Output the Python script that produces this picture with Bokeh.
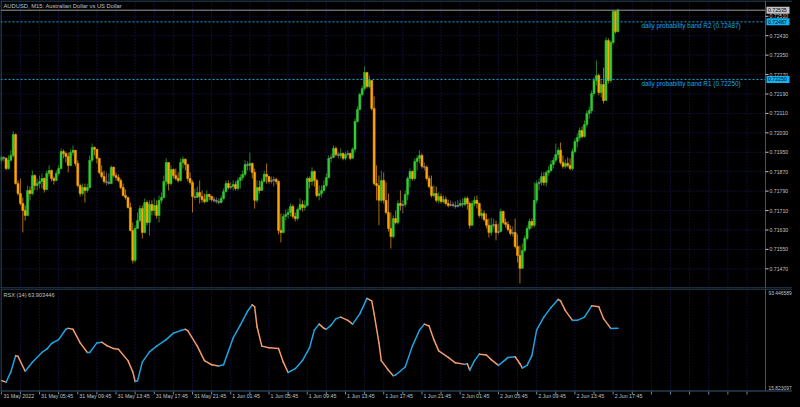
from bokeh.plotting import figure
from bokeh.layouts import column
from bokeh.models import Range1d, Span, ColumnDataSource, GlobalInlineStyleSheet
from bokeh.core.properties import value
from bokeh.embed import file_html
from bokeh.resources import INLINE

# ---------------- data ----------------
chart_title = "AUDUSD, M15:  Australian Dollar vs US Dollar"
first_open = 0.71917

close = [
0.71929, 0.71925, 0.71883, 0.71917, 0.71937, 0.72023, 0.71821, 0.71780, 0.71739, 0.71710,
0.71690, 0.71793, 0.71780, 0.71854, 0.71813, 0.71821, 0.71830, 0.71842, 0.71797, 0.71863,
0.71875, 0.71842, 0.71834, 0.71863, 0.71883, 0.71953, 0.71945, 0.71933, 0.71896, 0.71949,
0.71958, 0.71904, 0.71813, 0.71780, 0.71805, 0.71793, 0.71805, 0.71917, 0.71970, 0.71962,
0.71925, 0.71867, 0.71850, 0.71830, 0.71826, 0.71821, 0.71888, 0.71854, 0.71846, 0.71834,
0.71805, 0.71772, 0.71764, 0.71723, 0.71628, 0.71505, 0.71636, 0.71669, 0.71718, 0.71620,
0.71743, 0.71661, 0.71735, 0.71710, 0.71731, 0.71690, 0.71752, 0.71764, 0.71830, 0.71908,
0.71821, 0.71879, 0.71854, 0.71842, 0.71834, 0.71908, 0.71921, 0.71900, 0.71842, 0.71826,
0.71768, 0.71764, 0.71784, 0.71768, 0.71755, 0.71747, 0.71776, 0.71768, 0.71755, 0.71752,
0.71747, 0.71743, 0.71760, 0.71788, 0.71821, 0.71805, 0.71809, 0.71817, 0.71801, 0.71834,
0.71846, 0.71859, 0.71900, 0.71896, 0.71904, 0.71867, 0.71752, 0.71805, 0.71793, 0.71830,
0.71859, 0.71850, 0.71830, 0.71834, 0.71838, 0.71830, 0.71628, 0.71620, 0.71686, 0.71694,
0.71702, 0.71727, 0.71686, 0.71677, 0.71714, 0.71735, 0.71723, 0.71731, 0.71842, 0.71830,
0.71871, 0.71834, 0.71772, 0.71780, 0.71793, 0.71813, 0.71846, 0.71925, 0.71929, 0.71966,
0.71941, 0.71937, 0.71945, 0.71925, 0.71941, 0.71945, 0.71925, 0.71962, 0.72077, 0.72126,
0.72188, 0.72213, 0.72279, 0.72221, 0.72246, 0.72130, 0.71821, 0.71813, 0.71752, 0.71834,
0.71752, 0.71702, 0.71636, 0.71603, 0.71677, 0.71661, 0.71739, 0.71731, 0.71735, 0.71776,
0.71842, 0.71871, 0.71842, 0.71912, 0.71925, 0.71937, 0.71892, 0.71888, 0.71842, 0.71809,
0.71772, 0.71780, 0.71752, 0.71768, 0.71747, 0.71755, 0.71739, 0.71731, 0.71735, 0.71731,
0.71727, 0.71731, 0.71739, 0.71735, 0.71760, 0.71739, 0.71649, 0.71739, 0.71752, 0.71739,
0.71690, 0.71698, 0.71673, 0.71649, 0.71620, 0.71649, 0.71653, 0.71620, 0.71624, 0.71706,
0.71661, 0.71653, 0.71632, 0.71616, 0.71620, 0.71562, 0.71525, 0.71472, 0.71546, 0.71595,
0.71636, 0.71665, 0.71649, 0.71752, 0.71821, 0.71826, 0.71850, 0.71826, 0.71867, 0.71875,
0.71900, 0.71917, 0.71941, 0.71958, 0.71908, 0.71892, 0.71904, 0.71896, 0.71883, 0.71953,
0.71994, 0.72011, 0.72040, 0.72015, 0.72064, 0.72110, 0.72122, 0.72192, 0.72246, 0.72266,
0.72196, 0.72229, 0.72163, 0.72410, 0.72246, 0.72402, 0.72530, 0.72447, 0.72535]

high = [
0.71937, 0.71933, 0.71929, 0.71937, 0.71958, 0.72036, 0.72027, 0.71834, 0.71842, 0.71764,
0.71731, 0.71813, 0.71809, 0.71875, 0.71859, 0.71842, 0.71854, 0.71863, 0.71846, 0.71875,
0.71896, 0.71879, 0.71850, 0.71875, 0.71896, 0.71966, 0.71962, 0.71953, 0.71949, 0.71962,
0.71978, 0.71958, 0.71917, 0.71821, 0.71821, 0.71821, 0.71821, 0.71937, 0.71986, 0.71974,
0.71958, 0.71917, 0.71896, 0.71875, 0.71867, 0.71863, 0.71896, 0.71892, 0.71867, 0.71859,
0.71842, 0.71821, 0.71797, 0.71764, 0.71743, 0.71661, 0.71649, 0.71702, 0.71731, 0.71731,
0.71760, 0.71752, 0.71752, 0.71752, 0.71760, 0.71752, 0.71772, 0.71784, 0.71854, 0.71925,
0.71908, 0.71896, 0.71883, 0.71883, 0.71867, 0.71925, 0.71933, 0.71925, 0.71896, 0.71867,
0.71834, 0.71801, 0.71809, 0.71834, 0.71793, 0.71780, 0.71793, 0.71780, 0.71772, 0.71768,
0.71764, 0.71760, 0.71772, 0.71801, 0.71834, 0.71834, 0.71826, 0.71834, 0.71830, 0.71846,
0.71859, 0.71875, 0.71917, 0.71912, 0.71949, 0.71908, 0.71883, 0.71834, 0.71834, 0.71842,
0.71875, 0.71904, 0.71854, 0.71850, 0.71850, 0.71846, 0.71834, 0.71698, 0.71698, 0.71714,
0.71718, 0.71739, 0.71735, 0.71702, 0.71723, 0.71760, 0.71752, 0.71752, 0.71850, 0.71850,
0.71888, 0.71875, 0.71842, 0.71813, 0.71813, 0.71834, 0.71863, 0.71937, 0.71945, 0.71978,
0.71974, 0.71953, 0.71966, 0.71949, 0.71953, 0.71958, 0.71949, 0.71970, 0.72089, 0.72139,
0.72196, 0.72225, 0.72303, 0.72279, 0.72266, 0.72246, 0.72180, 0.71896, 0.71854, 0.71875,
0.71867, 0.71826, 0.71780, 0.71702, 0.71690, 0.71710, 0.71752, 0.71793, 0.71752, 0.71793,
0.71850, 0.71883, 0.71875, 0.71925, 0.71937, 0.71958, 0.71945, 0.71908, 0.71896, 0.71854,
0.71854, 0.71813, 0.71809, 0.71784, 0.71780, 0.71772, 0.71768, 0.71755, 0.71752, 0.71747,
0.71747, 0.71752, 0.71755, 0.71760, 0.71768, 0.71768, 0.71747, 0.71752, 0.71768, 0.71772,
0.71743, 0.71718, 0.71710, 0.71698, 0.71677, 0.71681, 0.71677, 0.71669, 0.71657, 0.71718,
0.71710, 0.71677, 0.71665, 0.71649, 0.71645, 0.71677, 0.71612, 0.71566, 0.71574, 0.71607,
0.71649, 0.71677, 0.71677, 0.71826, 0.71834, 0.71842, 0.71867, 0.71867, 0.71875, 0.71892,
0.71917, 0.71929, 0.71986, 0.71970, 0.71990, 0.71937, 0.71921, 0.71929, 0.71925, 0.71966,
0.72007, 0.72027, 0.72052, 0.72056, 0.72081, 0.72122, 0.72139, 0.72204, 0.72258, 0.72328,
0.72274, 0.72246, 0.72299, 0.72423, 0.72419, 0.72410, 0.72534, 0.72526, 0.72542]

low = [
0.71904, 0.71912, 0.71875, 0.71879, 0.71912, 0.71929, 0.71817, 0.71772, 0.71731, 0.71620,
0.71669, 0.71686, 0.71752, 0.71772, 0.71793, 0.71793, 0.71801, 0.71801, 0.71784, 0.71793,
0.71850, 0.71830, 0.71817, 0.71830, 0.71854, 0.71879, 0.71925, 0.71908, 0.71867, 0.71892,
0.71937, 0.71892, 0.71805, 0.71768, 0.71772, 0.71743, 0.71784, 0.71801, 0.71908, 0.71937,
0.71904, 0.71859, 0.71842, 0.71821, 0.71813, 0.71817, 0.71821, 0.71846, 0.71834, 0.71826,
0.71797, 0.71768, 0.71755, 0.71718, 0.71624, 0.71492, 0.71496, 0.71636, 0.71661, 0.71595,
0.71616, 0.71649, 0.71607, 0.71690, 0.71690, 0.71677, 0.71661, 0.71739, 0.71760, 0.71813,
0.71793, 0.71813, 0.71842, 0.71834, 0.71826, 0.71830, 0.71883, 0.71875, 0.71830, 0.71817,
0.71702, 0.71755, 0.71768, 0.71739, 0.71743, 0.71739, 0.71743, 0.71752, 0.71747, 0.71743,
0.71739, 0.71735, 0.71739, 0.71755, 0.71784, 0.71797, 0.71797, 0.71793, 0.71793, 0.71793,
0.71801, 0.71834, 0.71850, 0.71875, 0.71875, 0.71842, 0.71718, 0.71743, 0.71780, 0.71793,
0.71826, 0.71821, 0.71821, 0.71821, 0.71809, 0.71817, 0.71612, 0.71579, 0.71616, 0.71669,
0.71677, 0.71686, 0.71677, 0.71665, 0.71669, 0.71710, 0.71706, 0.71710, 0.71727, 0.71801,
0.71813, 0.71809, 0.71764, 0.71752, 0.71764, 0.71784, 0.71805, 0.71842, 0.71908, 0.71925,
0.71933, 0.71925, 0.71925, 0.71917, 0.71917, 0.71933, 0.71917, 0.71925, 0.71949, 0.72073,
0.72122, 0.72180, 0.72204, 0.72213, 0.72213, 0.72122, 0.71813, 0.71752, 0.71649, 0.71743,
0.71739, 0.71694, 0.71624, 0.71554, 0.71595, 0.71653, 0.71653, 0.71710, 0.71698, 0.71723,
0.71752, 0.71805, 0.71834, 0.71834, 0.71875, 0.71904, 0.71883, 0.71875, 0.71834, 0.71801,
0.71764, 0.71764, 0.71743, 0.71739, 0.71739, 0.71739, 0.71731, 0.71723, 0.71727, 0.71723,
0.71718, 0.71723, 0.71727, 0.71723, 0.71727, 0.71714, 0.71636, 0.71649, 0.71727, 0.71718,
0.71681, 0.71677, 0.71665, 0.71636, 0.71599, 0.71607, 0.71636, 0.71587, 0.71612, 0.71620,
0.71653, 0.71640, 0.71624, 0.71607, 0.71603, 0.71554, 0.71496, 0.71410, 0.71480, 0.71538,
0.71587, 0.71628, 0.71636, 0.71640, 0.71739, 0.71793, 0.71813, 0.71813, 0.71809, 0.71854,
0.71867, 0.71883, 0.71908, 0.71925, 0.71900, 0.71883, 0.71883, 0.71888, 0.71875, 0.71875,
0.71945, 0.71970, 0.71999, 0.72007, 0.72011, 0.72052, 0.72089, 0.72110, 0.72180, 0.72225,
0.72184, 0.72176, 0.72151, 0.72163, 0.72233, 0.72237, 0.72394, 0.72439, 0.72443]

price_ticks = [0.71470, 0.71550, 0.71630, 0.71710, 0.71790, 0.71870, 0.71950,
               0.72030, 0.72110, 0.72190, 0.72270, 0.72350, 0.72430, 0.72510]
band_r2 = 0.72487
band_r1 = 0.72250
last_price = 0.72535

time_labels = ["31 May 2022", "31 May 05:45", "31 May 09:45", "31 May 13:45", "31 May 17:45",
               "31 May 21:45", "1 Jun 01:45", "1 Jun 05:45", "1 Jun 09:45", "1 Jun 13:45",
               "1 Jun 17:45", "1 Jun 21:45", "2 Jun 01:45", "2 Jun 05:45", "2 Jun 09:45",
               "2 Jun 13:45", "2 Jun 17:45"]
bars_per_label = 16
bars_per_grid = 8

rsx_bar = [0, 2, 4, 6, 7, 10, 13, 17, 19, 21, 24, 27, 28, 30, 33, 36, 37, 40, 42, 44,
           47, 49, 53, 55, 56, 57, 59, 62, 65, 69, 72, 75, 77, 78, 82, 85, 88, 91, 93, 97,
           100, 103, 105, 106, 107, 109, 112, 116, 118, 120, 123, 126, 129, 131, 133, 135, 136, 138, 140, 142,
           145, 147, 150, 153, 155, 156, 158, 159, 162, 164, 165, 169, 172, 175, 177, 179, 181, 183, 187, 190,
           194, 195, 196, 198, 200, 203, 205, 208, 211, 212, 215, 217, 218, 220, 222, 224, 227, 230, 233, 234,
           236, 239, 241, 244, 247, 250, 252, 255, 258]
rsx_val = [23.5, 22.3, 30.2, 42.7, 42.2, 30.7, 37.7, 45.2, 47.7, 52.1, 55.1, 63.1, 63.8, 63.1, 52.6, 45.2, 45.2, 52.6, 53.1, 50.6,
           48.2, 47.7, 38.9, 30.2, 22.8, 23.3, 37.7, 45.7, 50.1, 55.1, 60.1, 62.1, 63.1, 62.1, 50.1, 38.9, 35.7, 34.7, 35.7, 56.4,
           66.3, 77.0, 82.0, 80.5, 65.1, 50.1, 48.9, 48.2, 37.7, 29.7, 32.7, 38.9, 48.9, 62.6, 67.1, 63.8, 63.1, 66.3, 71.3, 72.5,
           70.0, 67.1, 75.0, 87.0, 85.0, 75.0, 52.6, 38.9, 31.5, 27.3, 27.8, 34.0, 50.1, 62.6, 67.1, 65.6, 55.1, 46.4, 41.4, 37.2,
           36.0, 36.5, 31.5, 38.9, 43.9, 43.2, 39.7, 35.2, 39.7, 41.4, 41.9, 36.5, 33.2, 35.2, 42.7, 62.6, 72.5, 80.0, 86.2, 85.0,
           77.5, 70.0, 70.0, 72.5, 81.2, 80.5, 71.3, 63.8, 63.903446]
rsx_period = 14
rsx_max = 93.446589
rsx_min = 15.823097

assert len(close) == len(high) == len(low)
assert len(rsx_bar) == len(rsx_val)

# ---------------- style / layout ----------------
BG = "#000000"
BORDER = "#34587c"
GRID = "#1b1b66"
TXT = "#bcc4cc"
FONT = "Liberation Sans"
BULL, BEAR, NEUT = "#33cc33", "#ffa500", "#8c8c8c"
BULL_W, BEAR_W, NEUT_W = "#2f7f22", "#a8700c", "#5c5c5c"
BAND = "#19a7e6"
RSX_UP, RSX_DN = "#1fa3e3", "#f39a6b"

W = 792
H1 = 288
H2 = 111
EDGE = 765          # pixel position of the price scale line
BAR_PX = 2.39
x_start = -0.8 / BAR_PX
x_end = x_start + W / BAR_PX
PXX = (x_end - x_start) / W


def xpx(px):
    return x_start + px * PXX


x_edge = xpx(EDGE)

y_top, y_bot = 0.72575, 0.71389
PYM = (y_top - y_bot) / H1


def ypm(py):
    return y_top - py * PYM


# RSX figure: max at 1.5 px, min at 102 px
PYR = (rsx_max - rsx_min) / 100.5
r_top = rsx_max + 1.5 * PYR
r_bot = r_top - H2 * PYR


def ypr(py):
    return r_top - py * PYR


def txt(p, xs, ys, texts, size, color=TXT, align="left"):
    p.text(x=xs, y=ys, text=texts, text_font=value(FONT), text_font_size=value(size),
           text_color=color, text_align=align, text_baseline="middle")


n = len(close)
opens = [first_open] + close[:-1]
tops, bots, fills, wcols, his, los = [], [], [], [], [], []
for o, c, h, l in zip(opens, close, high, low):
    d = c - o
    if abs(d) < 0.00006:
        fills.append(NEUT); wcols.append(NEUT_W)
    elif d > 0:
        fills.append(BULL); wcols.append(BULL_W)
    else:
        fills.append(BEAR); wcols.append(BEAR_W)
    t, b = max(o, c), min(o, c)
    if t - b < 0.00003:
        t += 0.000015; b -= 0.000015
    tops.append(t); bots.append(b)
    his.append(max(h, o, c)); los.append(min(l, o, c))
src = ColumnDataSource(dict(x=list(range(n)), top=tops, bottom=bots, fill=fills, wick=wcols, hi=his, lo=los))

grid_ticks = [b for b in range(0, 400, bars_per_grid) if b <= x_edge]

common = dict(width=W, output_backend="svg", toolbar_location=None, x_axis_location=None,
              y_axis_location=None, background_fill_color=BG, border_fill_color=BG, min_border=0,
              outline_line_color=None)

# ---------------- main panel ----------------
p1 = figure(height=H1, x_range=Range1d(x_start, x_end), y_range=Range1d(y_bot, y_top), **common)
p1.center = []

# grid
p1.segment(x0=grid_ticks, y0=[y_bot] * len(grid_ticks), x1=grid_ticks, y1=[y_top] * len(grid_ticks),
           line_color=GRID, line_dash="1 2", line_width=1)
p1.segment(x0=[x_start] * len(price_ticks), y0=price_ticks, x1=[x_edge] * len(price_ticks), y1=price_ticks,
           line_color=GRID, line_dash="1 2", line_width=1)

# candles
p1.segment(x0="x", y0="lo", x1="x", y1="hi", source=src, line_color="wick", line_width=1)
p1.vbar(x="x", top="top", bottom="bottom", width=0.85, source=src, fill_color="fill",
        line_color="fill", line_width=0.5)

# bands and price line
p1.segment(x0=[x_start, x_start], y0=[band_r2, band_r1], x1=[x_edge, x_edge], y1=[band_r2, band_r1],
           line_color=BAND, line_dash="2 2", line_width=1)
p1.segment(x0=[x_start], y0=[last_price], x1=[x_edge], y1=[last_price], line_color="#9a9a9a", line_width=1)
txt(p1, [xpx(641), xpx(641)], [band_r2 - 4.0 * PYM, band_r1 - 4.5 * PYM],
    [f"daily probability band R2 ({band_r2:.5f})", f"daily probability band R1 ({band_r1:.5f})"],
    "6.4px", color=BAND)

# borders and price scale
p1.add_layout(Span(location=ypm(0.5), dimension="width", line_color=BORDER, line_width=1))
p1.add_layout(Span(location=ypm(287.5), dimension="width", line_color=BORDER, line_width=1))
p1.segment(x0=[xpx(0.5), x_edge], y0=[y_bot, y_bot], x1=[xpx(0.5), x_edge], y1=[y_top, y_top],
           line_color=BORDER, line_width=1)
p1.segment(x0=[x_edge] * len(price_ticks), y0=price_ticks, x1=[xpx(EDGE + 3)] * len(price_ticks),
           y1=price_ticks, line_color=TXT, line_width=1)
txt(p1, [xpx(EDGE + 4)] * len(price_ticks), price_ticks, [f"{t:.5f}" for t in price_ticks], "5.2px")

# price boxes on the scale
box_vals = [last_price, band_r2, band_r1]
box_cols = ["#c4c4c4", "#11b3f0", "#11b3f0"]
p1.quad(left=[xpx(EDGE + 1)] * 3, right=[xpx(EDGE + 24)] * 3, top=[v + 3.5 * PYM for v in box_vals],
        bottom=[v - 3.5 * PYM for v in box_vals], fill_color=box_cols, line_color=None)
txt(p1, [xpx(EDGE + 2.5)] * 3, box_vals, [f"{v:.5f}" for v in box_vals], "5.2px", color="#000000")

# title
txt(p1, [xpx(3)], [ypm(5.5)], [chart_title], "5.8px")

# ---------------- RSX panel ----------------
p2 = figure(height=H2, x_range=p1.x_range, y_range=Range1d(r_bot, r_top), **common)
p2.center = []

p2.segment(x0=grid_ticks, y0=[rsx_min] * len(grid_ticks), x1=grid_ticks, y1=[r_top] * len(grid_ticks),
           line_color=GRID, line_dash="1 2", line_width=1)

x0s, y0s, x1s, y1s, cols = [], [], [], [], []
for i in range(len(rsx_bar) - 1):
    x0s.append(rsx_bar[i]); y0s.append(rsx_val[i])
    x1s.append(rsx_bar[i + 1]); y1s.append(rsx_val[i + 1])
    cols.append(RSX_UP if rsx_val[i + 1] >= rsx_val[i] else RSX_DN)
p2.segment(x0=x0s, y0=y0s, x1=x1s, y1=y1s, line_color=cols, line_width=1.5, line_cap="round")

p2.add_layout(Span(location=ypr(0.5), dimension="width", line_color=BORDER, line_width=1))
p2.add_layout(Span(location=ypr(102.5), dimension="width", line_color=BORDER, line_width=1))
p2.segment(x0=[xpx(0.5), x_edge], y0=[ypr(102.5)] * 2, x1=[xpx(0.5), x_edge], y1=[r_top] * 2,
           line_color=BORDER, line_width=1)
# time ticks
p2.segment(x0=grid_ticks, y0=[ypr(103)] * len(grid_ticks), x1=grid_ticks, y1=[ypr(106)] * len(grid_ticks),
           line_color="#6f8aa6", line_width=1)

txt(p2, [xpx(3)], [ypr(6.5)], [f"RSX ({rsx_period}) {rsx_val[-1]:.6f}"], "5.6px")
txt(p2, [xpx(EDGE + 3), xpx(EDGE + 3)], [ypr(4.2), ypr(99.2)], [f"{rsx_max:.6f}", f"{rsx_min:.6f}"], "4.9px")

label_x = [xpx(0.8 + k * bars_per_label * BAR_PX + 1.5) for k in range(len(time_labels))]
label_x[0] = xpx(3)
txt(p2, label_x, [ypr(107.5)] * len(time_labels), time_labels, "5.3px")

layout = column(p1, p2, spacing=0)
layout.stylesheets = [GlobalInlineStyleSheet(css="html, body { background-color: #000000; }")]

open("out.html", "w").write(file_html(layout, INLINE))
